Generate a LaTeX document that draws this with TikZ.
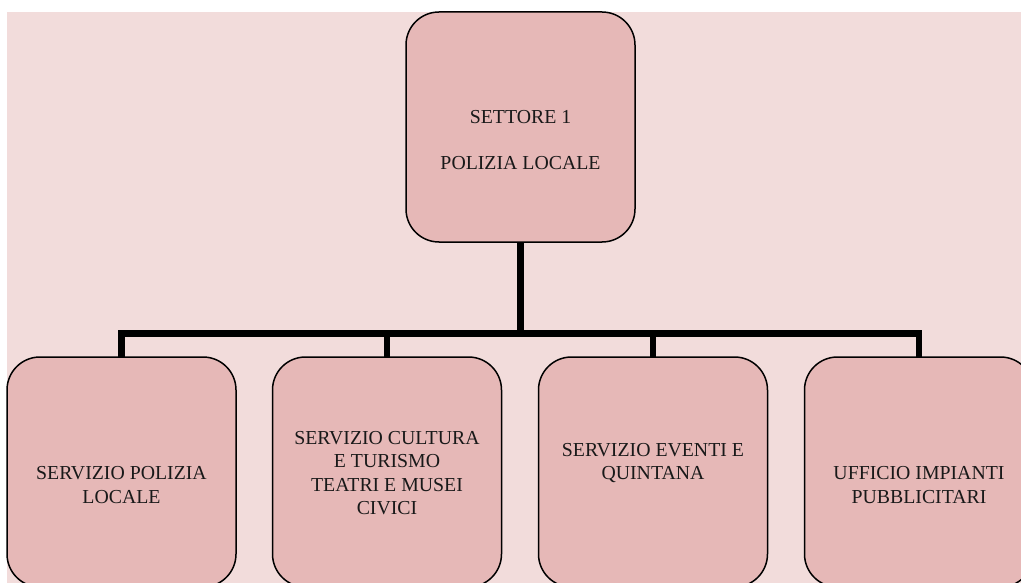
\documentclass[tikz,border=0pt]{standalone}
\usepackage{fontspec}
\setmainfont{Liberation Serif}
\definecolor{bgpink}{HTML}{F2DCDB}
\definecolor{boxfill}{HTML}{E6B8B7}
\begin{document}
\begin{tikzpicture}[x=1pt,y=-1pt,
  orgbox/.style={draw=black, line width=1.5pt, fill=boxfill, rounded corners=33pt,
    minimum width=229pt, minimum height=230pt, inner sep=0pt},
  lbl/.style={font=\fontsize{19.8}{23.3}\selectfont, align=center, inner sep=0pt, text=black!90},
  conn/.style={line width=6.5pt, draw=black}]
\useasboundingbox (0,0) rectangle (1021,583);
\clip (0,0) rectangle (1021,583);
\fill[bgpink] (7,12) rectangle (1030,590);
% connectors
\coordinate (bar) at (520.5,333.5);
\coordinate (c1) at (121.5,357);
\coordinate (c2) at (387,357);
\coordinate (c3) at (653,357);
\coordinate (c4) at (919,357);
\coordinate (ctop) at (520.5,242);
\draw[conn] (ctop) -- (bar);
\draw[conn] (c1) -- (c1 |- bar) -- (c4 |- bar) -- (c4);
\draw[conn] (c2) -- (c2 |- bar);
\draw[conn] (c3) -- (c3 |- bar);
% boxes
\node[orgbox] (top) at (520.5,127) {};
\node[orgbox] (b1) at (121.5,472) {};
\node[orgbox] (b2) at (387,472) {};
\node[orgbox] (b3) at (653,472) {};
\node[orgbox] (b4) at (919,472) {};
% labels
\node[lbl] (t0) at (520.5,140) {SETTORE 1\\[23pt]POLIZIA LOCALE};
\node[lbl] (t1) at (121.5,485) {SERVIZIO POLIZIA\\LOCALE};
\node[lbl] (t2) at (387,473) {SERVIZIO CULTURA\\E TURISMO\\TEATRI E MUSEI\\CIVICI};
\node[lbl] (t3) at (653,463) {SERVIZIO EVENTI E\\QUINTANA};
\node[lbl] (t4) at (919,485) {UFFICIO IMPIANTI\\PUBBLICITARI};
\end{tikzpicture}
\end{document}
